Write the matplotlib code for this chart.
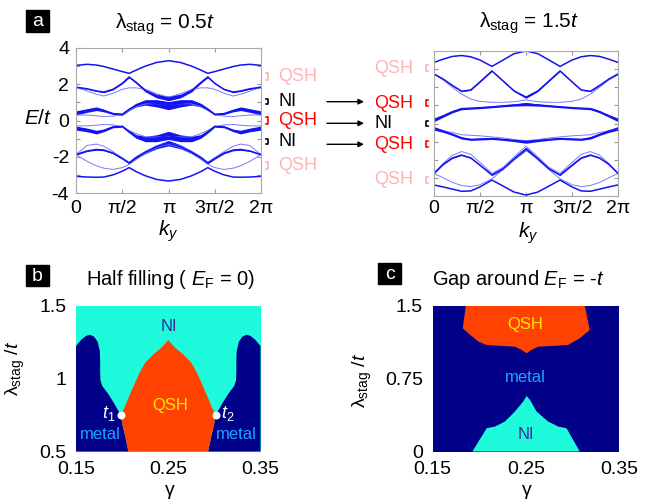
import numpy as np
import matplotlib.pyplot as plt
from matplotlib.lines import Line2D
from matplotlib.patches import Rectangle

plt.rcParams['font.family'] = ['Liberation Sans', 'DejaVu Sans']
plt.rcParams['mathtext.fontset'] = 'custom'
plt.rcParams['mathtext.rm'] = 'Liberation Sans'
plt.rcParams['mathtext.it'] = 'Liberation Sans:italic'
plt.rcParams['mathtext.bf'] = 'Liberation Sans:bold'

# ---------------- dane: pasma (k w jednostkach pi, 0..pi, reszta symetrycznie) ----------------
k_lewy = [0, 0.12, 0.22, 0.3, 0.4, 0.5, 0.575, 0.65, 0.75, 0.87, 1.0]
# lambda_stag = 0.5t
L_A = [3.04, 3.1, 3.06, 2.98, 2.84, 2.7, 2.6, 2.78, 3.0, 3.2, 3.3]
L_C = [1.84, 1.75, 1.63, 1.57, 1.72, 2.05, 2.4, 2.1, 1.65, 1.35, 1.22]
L_C_w = [0.06, 0.05, 0.06, 0.07, 0.06, 0.05, 0.08, 0.1, 0.14, 0.2, 0.26]
L_D = [1.84, 1.62, 1.45, 1.35, 1.5, 1.72, 1.8, 1.8, 1.72, 1.48, 1.28]
L_F = [0.42, 0.55, 0.65, 0.55, 0.38, 0.34, 0.62, 0.85, 1.0, 0.95, 0.82]
L_F_w = [0.22, 0.2, 0.2, 0.14, 0.1, 0.1, 0.14, 0.2, 0.3, 0.4, 0.45]
L_G = [0.3, 0.3, 0.26, 0.22, 0.24, 0.33, 0.55, 0.75, 0.92, 0.93, 0.82]
L_H = [-0.42, -0.52, -0.64, -0.55, -0.35, -0.32, -0.62, -0.88, -1.02, -0.98, -0.82]
L_H_w = [0.22, 0.2, 0.2, 0.14, 0.1, 0.1, 0.14, 0.2, 0.3, 0.38, 0.45]
L_I = [-0.3, -0.3, -0.26, -0.22, -0.24, -0.35, -0.55, -0.72, -0.9, -0.92, -0.85]
L_J = [-1.88, -1.68, -1.6, -1.63, -1.8, -2.1, -2.35, -2.05, -1.75, -1.45, -1.25]
L_J_w = [0.06, 0.06, 0.08, 0.08, 0.07, 0.06, 0.08, 0.1, 0.15, 0.22, 0.3]
L_K = [-1.88, -1.38, -1.3, -1.42, -1.72, -2.05, -2.3, -2.0, -1.7, -1.4, -1.25]
L_L = [-1.88, -2.25, -2.5, -2.63, -2.7, -2.6, -2.42, -2.15, -1.82, -1.5, -1.32]
L_M = [-3.08, -3.12, -3.13, -3.12, -3.0, -2.8, -2.6, -2.82, -3.05, -3.25, -3.34]

k_prawy = [0, 0.1, 0.2, 0.3, 0.4, 0.5, 0.63, 0.75, 0.87, 1.0]
# lambda_stag = 1.5t
R_A = [3.37, 3.55, 3.7, 3.75, 3.68, 3.5, 3.15, 3.5, 3.85, 4.0]
R_C = [2.73, 2.45, 2.1, 1.78, 1.85, 2.3, 2.9, 2.35, 1.8, 1.45]
R_C_w = [0.04, 0.04, 0.04, 0.05, 0.04, 0.04, 0.05, 0.05, 0.07, 0.12]
R_D = [2.73, 2.4, 2.0, 1.62, 1.35, 1.22, 1.17, 1.17, 1.2, 1.3]
R_F = [0.2, 0.42, 0.65, 0.82, 0.84, 0.87, 0.92, 0.97, 1.02, 1.07]
R_F_w = [0.2, 0.14, 0.12, 0.12, 0.1, 0.1, 0.1, 0.1, 0.12, 0.18]
R_H = [-0.27, -0.42, -0.6, -0.8, -0.88, -0.86, -0.83, -0.88, -0.94, -1.0]
R_H_w = [0.2, 0.14, 0.12, 0.12, 0.1, 0.1, 0.1, 0.1, 0.12, 0.18]
R_I = [-0.3, -0.4, -0.5, -0.62, -0.65, -0.68, -0.74, -0.8, -0.88, -0.95]
R_J = [-2.75, -2.25, -1.9, -1.74, -1.9, -2.3, -2.84, -2.5, -1.95, -1.4]
R_J_w = [0.04, 0.05, 0.05, 0.05, 0.05, 0.05, 0.06, 0.06, 0.1, 0.18]
R_K = [-2.75, -2.2, -1.75, -1.55, -1.7, -2.15, -2.75, -2.42, -1.85, -1.25]
R_L = [-2.75, -3.0, -3.25, -3.42, -3.48, -3.38, -3.05, -2.55, -2.0, -1.45]
R_M = [-3.39, -3.5, -3.62, -3.74, -3.72, -3.5, -3.12, -3.45, -3.78, -3.95]

k_ticks = [0, np.pi / 2, np.pi, 3 * np.pi / 2, 2 * np.pi]
k_tick_labels = ['0', 'π/2', 'π', '3π/2', '2π']

# ---------------- dane: diagramy fazowe ----------------
# b) polowa wypelnienia
b_metal_lewy_g = [0.15, 0.2068, 0.2035, 0.2005, 0.1985, 0.195, 0.19, 0.1845, 0.1785, 0.1765,
                  0.1762, 0.1762, 0.1758, 0.1735, 0.1695, 0.1652, 0.161, 0.156, 0.152, 0.15]
b_metal_lewy_l = [0.5, 0.5, 0.6, 0.68, 0.752, 0.79, 0.845, 0.9, 0.95, 0.99,
                  1.05, 1.12, 1.19, 1.255, 1.29, 1.302, 1.295, 1.27, 1.24, 1.225]
b_metal_prawy_g = [0.35, 0.2932, 0.2965, 0.2995, 0.3015, 0.305, 0.31, 0.3155, 0.3215, 0.3235,
                   0.3238, 0.3238, 0.3242, 0.3265, 0.3305, 0.3348, 0.339, 0.344, 0.348, 0.35]
b_metal_prawy_l = [0.5, 0.5, 0.6, 0.68, 0.752, 0.79, 0.845, 0.9, 0.95, 0.99,
                   1.05, 1.12, 1.19, 1.255, 1.29, 1.302, 1.295, 1.27, 1.24, 1.225]
b_qsh_g = [0.2068, 0.2035, 0.2005, 0.1985, 0.2025, 0.207, 0.2125, 0.218, 0.225, 0.2335, 0.242,
           0.25, 0.258, 0.2665, 0.275, 0.282, 0.2875, 0.293, 0.2975, 0.3015, 0.2995, 0.2965, 0.2932]
b_qsh_l = [0.5, 0.6, 0.68, 0.752, 0.8, 0.87, 0.95, 1.03, 1.11, 1.165, 1.21,
           1.265, 1.21, 1.165, 1.11, 1.03, 0.95, 0.87, 0.8, 0.752, 0.68, 0.6, 0.5]
b_t_g = [0.1985, 0.3015]
b_t_l = [0.752, 0.752]

# c) przerwa wokol E_F = -t
c_qsh_g = [0.1857, 0.1824, 0.1885, 0.1992, 0.2081, 0.2242, 0.2384, 0.2455, 0.2509,
           0.2562, 0.2634, 0.2777, 0.2954, 0.3079, 0.3186, 0.315, 0.3133]
c_qsh_l = [1.5, 1.27, 1.218, 1.133, 1.098, 1.088, 1.081, 1.047, 1.013,
           1.047, 1.081, 1.088, 1.098, 1.167, 1.253, 1.425, 1.5]
c_ni_g = [0.1928, 0.2081, 0.217, 0.2277, 0.2384, 0.2473, 0.2509, 0.2545, 0.2616,
          0.274, 0.2848, 0.2937, 0.3079]
c_ni_l = [0.0, 0.24, 0.257, 0.309, 0.412, 0.515, 0.573, 0.532, 0.412,
          0.309, 0.257, 0.24, 0.0]

NIEBIESKI = '#1414f0'
JASNY = '#7a7aff'
CYJAN = '#1efadc'
GRANAT = '#000088'
POMARANCZ = '#ff4200'
ROZ = '#ffb3b3'
W = 650
H = 501


def fx(x):
    return x / W


def fy(y):
    return 1 - y / H


def lustro(v):
    v = np.asarray(v, dtype=float)
    return np.concatenate([v, v[-2::-1]])


def lustro_k(k):
    k = np.asarray(k, dtype=float)
    return np.concatenate([k, 2 - k[-2::-1]]) * np.pi


def pasma(ax, k_half, cienkie, srednie, grube):
    k = lustro_k(k_half)
    for e in cienkie:
        ax.plot(k, lustro(e), color=JASNY, lw=0.7)
    for e in srednie:
        ax.plot(k, lustro(e), color=NIEBIESKI, lw=1.1)
    for e, w in grube:
        e = lustro(e)
        w = lustro(w)
        ax.fill_between(k, e - w / 2, e + w / 2, color=NIEBIESKI, lw=0)
        ax.plot(k, e, color=NIEBIESKI, lw=1.1)
    ax.set_xlim(0, 2 * np.pi)
    ax.set_ylim(-4, 4)
    ax.set_xticks(k_ticks)
    ax.set_xticklabels(k_tick_labels)
    ax.set_yticks(range(-4, 5))
    ax.tick_params(direction='in', length=3, top=True, right=True, color='#999999',
                   labelsize=14, pad=5)
    for s in ax.spines.values():
        s.set_color('#aaaaaa')
        s.set_linewidth(0.8)


def nawias(x, y, h, kolor, strona):
    d = 2.5 if strona == 'lewy' else -2.5
    xs = [fx(x - d), fx(x), fx(x), fx(x - d)]
    ys = [fy(y - h / 2), fy(y - h / 2), fy(y + h / 2), fy(y + h / 2)]
    fig.add_artist(Line2D(xs, ys, color=kolor, lw=1.2, transform=fig.transFigure))


def etykieta_panelu(x0, y0, x1, y1, litera):
    fig.add_artist(Rectangle((fx(x0), fy(y1)), (x1 - x0) / W, (y1 - y0) / H,
                             transform=fig.transFigure, color='black'))
    fig.text(fx((x0 + x1) / 2), fy((y0 + y1) / 2 + 1), litera, color='white',
             fontsize=14, ha='center', va='center')


fig = plt.figure(figsize=(6.5, 5.01), dpi=100)

ax1 = fig.add_axes([fx(76), fy(193), 185 / W, 145 / H])
ax2 = fig.add_axes([fx(434), fy(196), 184 / W, 145 / H])
ax3 = fig.add_axes([fx(76), fy(451.5), 184.5 / W, 145.5 / H])
ax4 = fig.add_axes([fx(432.5), fy(451.5), 186.5 / W, 145.5 / H])

# ---- a) lewy
pasma(ax1, k_lewy, [L_D, L_G, L_I, L_K, L_L], [L_A, L_M],
      [(L_C, L_C_w), (L_F, L_F_w), (L_H, L_H_w), (L_J, L_J_w)])
ax1.set_yticklabels(['-4', '', '-2', '', '0', '', '2', '', '4'])

# ---- a) prawy
pasma(ax2, k_prawy, [R_D, R_I, R_K, R_L], [R_A, R_M],
      [(R_C, R_C_w), (R_F, R_F_w), (R_H, R_H_w), (R_J, R_J_w)])
ax2.set_yticklabels([])
ax2.tick_params(axis='x', pad=3)

etykieta_panelu(26, 10, 49, 32, 'a')
fig.text(fx(165), fy(29), 'λ$_{\\rm stag}$ = 0.5$t$', fontsize=15, ha='center', va='baseline')
fig.text(fx(529), fy(28), 'λ$_{\\rm stag}$ = 1.5$t$', fontsize=15, ha='center', va='baseline')
fig.text(fx(38), fy(118), '$E/t$', fontsize=15, ha='center', va='center')
fig.text(fx(168), fy(218), '$k_y$', fontsize=15, ha='center', va='top')
fig.text(fx(528), fy(220), '$k_y$', fontsize=15, ha='center', va='top')

# etykiety przerw
lewe = [(76.7, 'QSH', ROZ, 7), (101.5, 'NI', 'black', 5), (120.5, 'QSH', 'red', 7),
        (141.5, 'NI', 'black', 5), (165, 'QSH', ROZ, 7)]
for y, t, kol, h in lewe:
    nawias(268, y, h, kol, 'lewy')
    fig.text(fx(278), fy(y), t, color=kol, fontsize=13, ha='left', va='center')

prawe = [(68.3, 'QSH', ROZ, 6), (103.3, 'QSH', 'red', 6), (123.3, 'NI', 'black', 5),
         (144.3, 'QSH', 'red', 6), (180, 'QSH', ROZ, 6)]
for y, t, kol, h in prawe:
    nawias(426, y, h, kol, 'prawy')
    fig.text(fx(374), fy(y), t, color=kol, fontsize=13, ha='left', va='center')

for y in [101.7, 123.3, 144.3]:
    fig.add_artist(plt.Annotation('', xy=(fx(364), fy(y)), xytext=(fx(327), fy(y)),
                                  xycoords='figure fraction', textcoords='figure fraction',
                                  arrowprops=dict(arrowstyle='-|>', color='black', lw=1.0,
                                                  mutation_scale=8, shrinkA=0, shrinkB=0)))

# ---- b)
ax3.set_facecolor(CYJAN)
ax3.fill(b_metal_lewy_g, b_metal_lewy_l, color=GRANAT, lw=0)
ax3.fill(b_metal_prawy_g, b_metal_prawy_l, color=GRANAT, lw=0)
ax3.fill(b_qsh_g, b_qsh_l, color=POMARANCZ, lw=0)
ax3.scatter(b_t_g, b_t_l, s=22, color='white', zorder=5)
ax3.set_xlim(0.15, 0.35)
ax3.set_ylim(0.5, 1.5)
ax3.set_xticks([0.15, 0.25, 0.35])
ax3.set_xticklabels(['0.15', '0.25', '0.35'])
ax3.set_yticks([0.5, 1, 1.5])
ax3.set_yticklabels(['0.5', '1', '1.5'])
ax3.text(0.2504, 1.358, 'NI', color='#3a2a9a', fontsize=12, ha='center', va='center')
ax3.text(0.2518, 0.814, 'QSH', color='#ffe600', fontsize=12, ha='center', va='center')
ax3.text(0.1767, 0.614, 'metal', color='#1aa6ff', fontsize=12, ha='center', va='center')
ax3.text(0.324, 0.614, 'metal', color='#1aa6ff', fontsize=12, ha='center', va='center')
ax3.text(0.193, 0.763, '$t_1$', color='white', fontsize=13, ha='right', va='center')
ax3.text(0.307, 0.763, '$t_2$', color='white', fontsize=13, ha='left', va='center')

# ---- c)
ax4.set_facecolor(GRANAT)
ax4.fill(c_qsh_g, c_qsh_l, color=POMARANCZ, lw=0)
ax4.fill(c_ni_g, c_ni_l, color=CYJAN, lw=0)
ax4.set_xlim(0.15, 0.35)
ax4.set_ylim(0, 1.5)
ax4.set_xticks([0.15, 0.25, 0.35])
ax4.set_xticklabels(['0.15', '0.25', '0.35'])
ax4.set_yticks([0, 0.75, 1.5])
ax4.set_yticklabels(['0', '0.75', '1.5'])
ax4.text(0.2491, 1.308, 'QSH', color='#ffe600', fontsize=12, ha='center', va='center')
ax4.text(0.2498, 0.765, 'metal', color='#1aa6ff', fontsize=12, ha='center', va='center')
ax4.text(0.25, 0.172, 'NI', color='#3a2a9a', fontsize=12, ha='center', va='center')

for ax in [ax3, ax4]:
    for s in ax.spines.values():
        s.set_visible(False)
    ax.tick_params(length=0, labelsize=14, pad=7)

etykieta_panelu(26, 265, 49, 286, 'b')
etykieta_panelu(378, 263, 401, 284, 'c')
fig.text(fx(171), fy(285), 'Half filling ( $E_{\\rm F}$ = 0)', fontsize=14.5, ha='center', va='baseline')
fig.text(fx(518), fy(285), 'Gap around $E_{\\rm F}$ = -$t$', fontsize=14.5, ha='center', va='baseline')
fig.text(fx(15), fy(368), 'λ$_{\\rm stag}$ /$t$', fontsize=14, rotation=90, ha='center', va='center')
fig.text(fx(362), fy(380), 'λ$_{\\rm stag}$ /$t$', fontsize=14, rotation=90, ha='center', va='center')
fig.text(fx(170), fy(482), 'γ', fontsize=14, ha='center', va='top')
fig.text(fx(527), fy(482), 'γ', fontsize=14, ha='center', va='top')

plt.savefig('out.png', dpi=100)
